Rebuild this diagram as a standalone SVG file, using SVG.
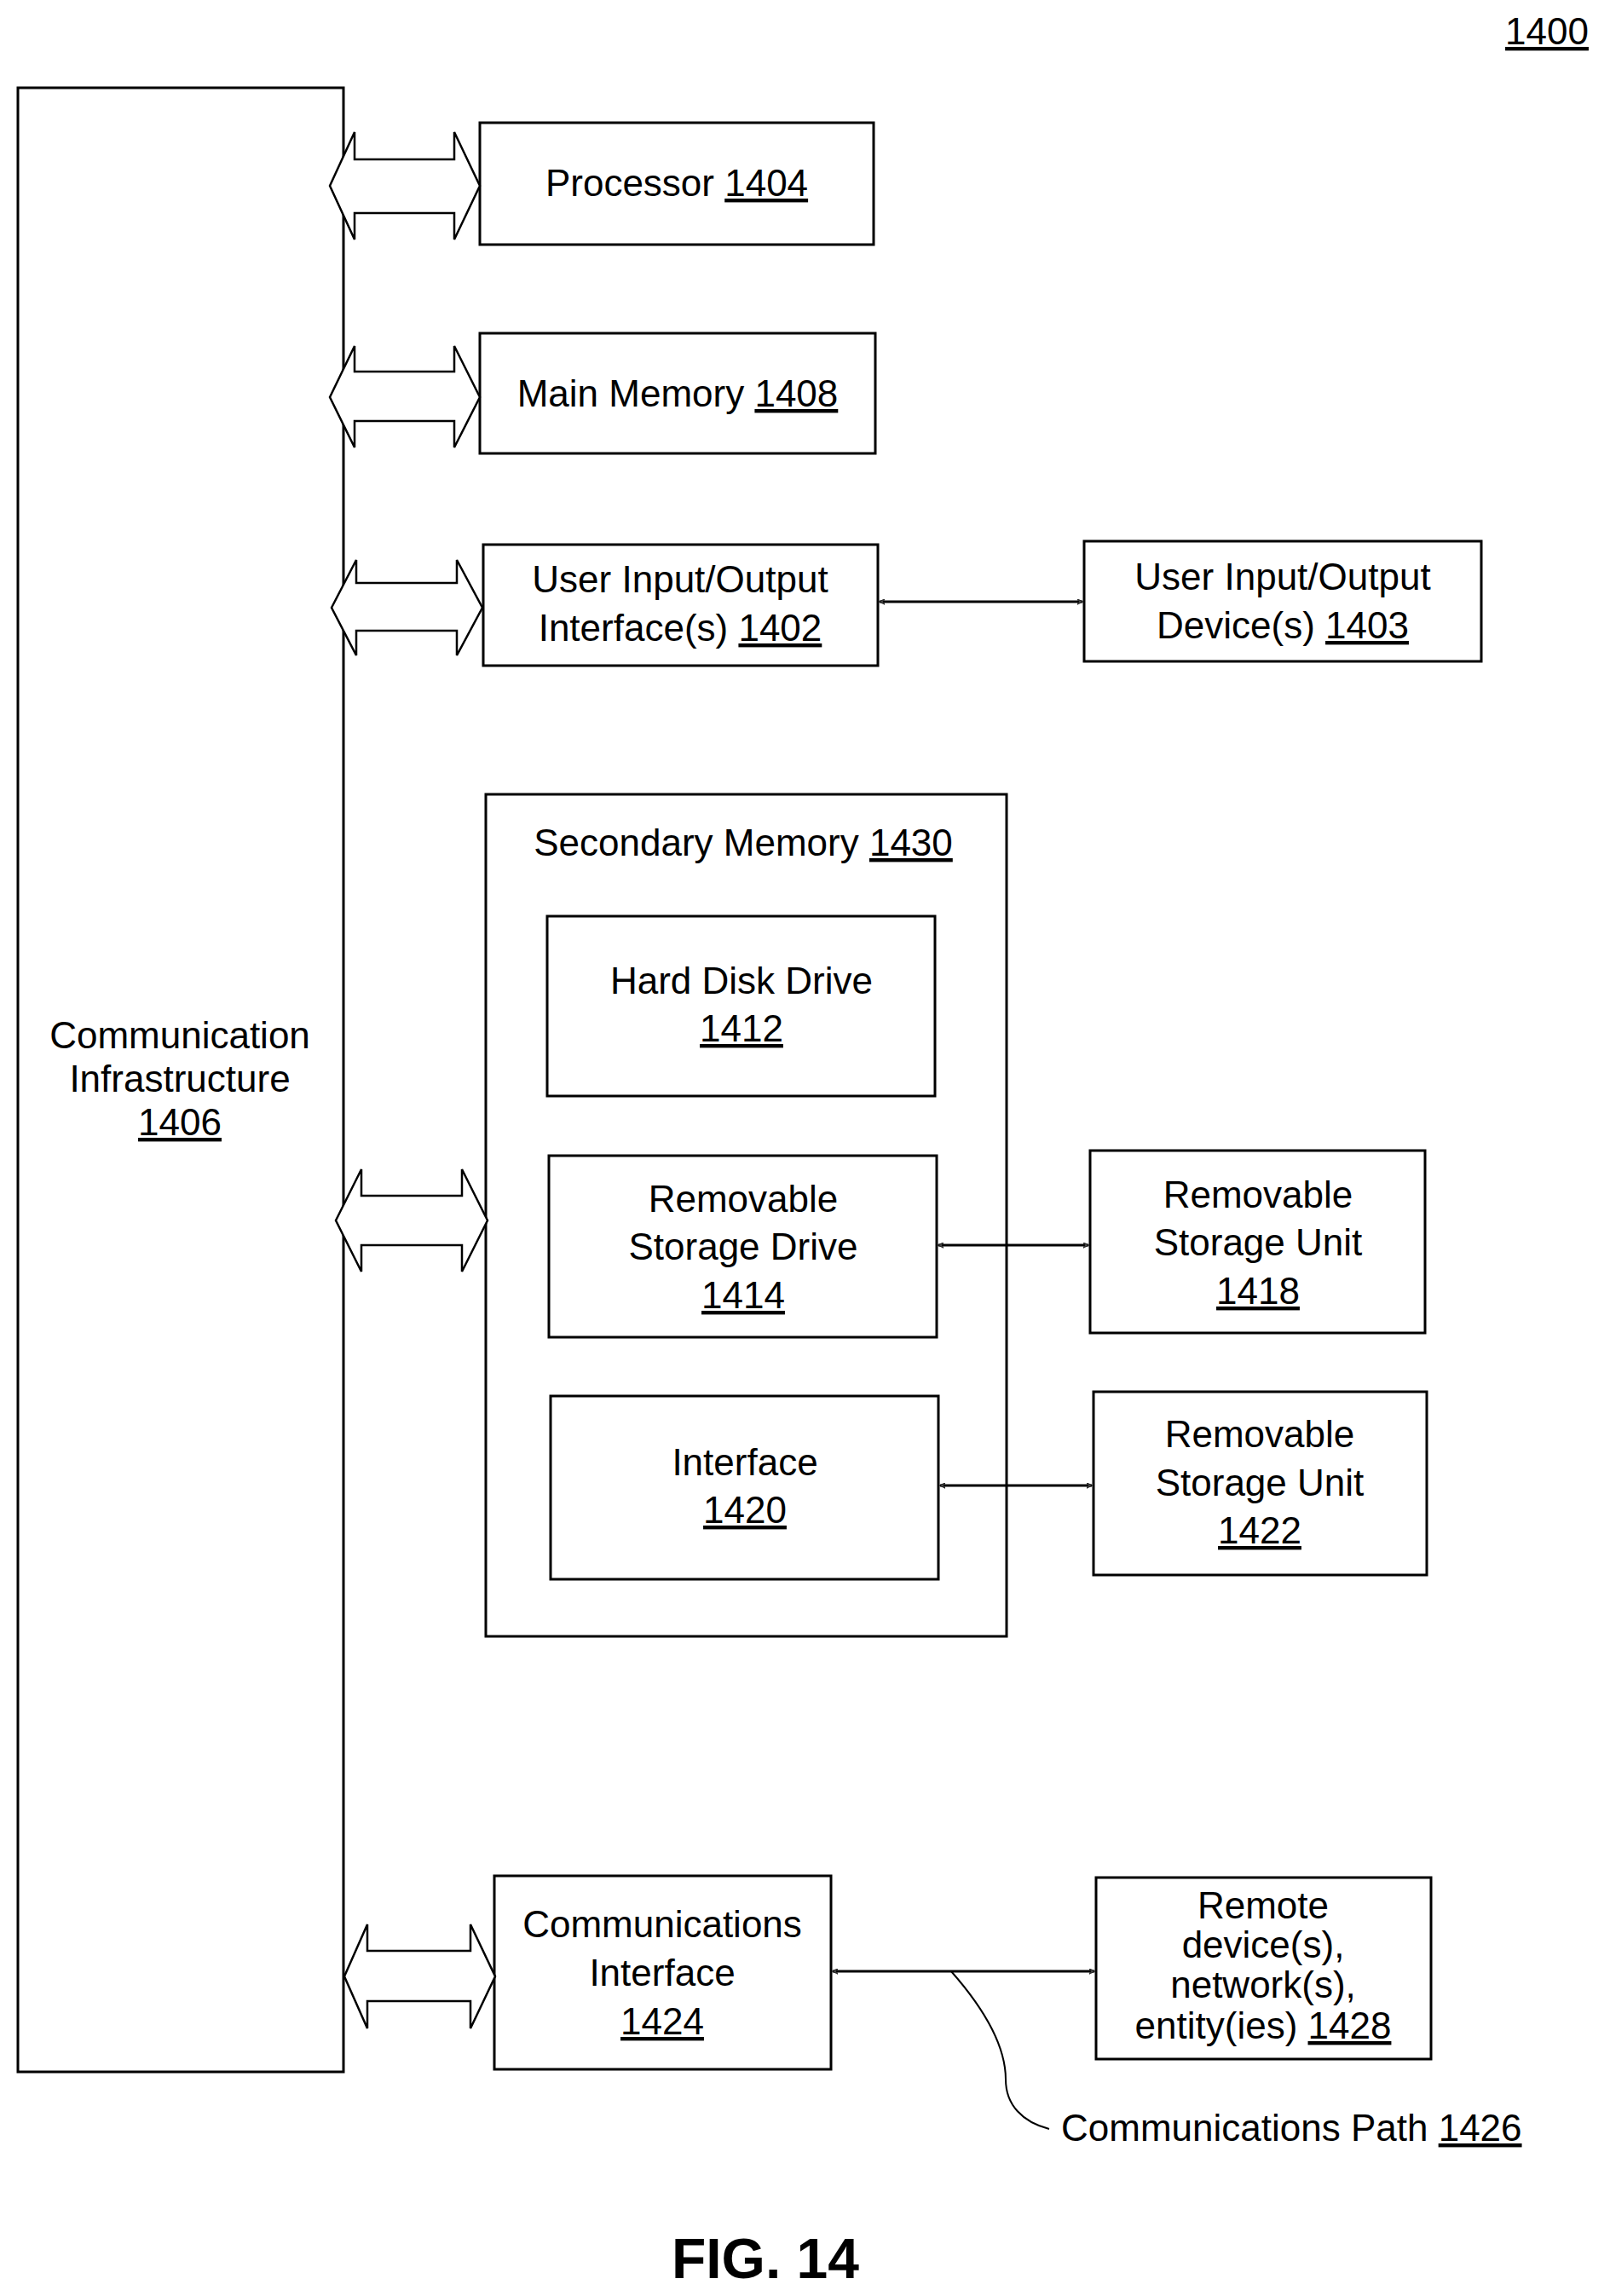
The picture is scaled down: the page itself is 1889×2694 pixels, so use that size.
<svg xmlns="http://www.w3.org/2000/svg" width="1889" height="2694" viewBox="0 0 1889 2694">
<defs>
<style>
.b{fill:#fff;stroke:#000;stroke-width:3}
.h{fill:#fff;stroke:#000;stroke-width:2.5;stroke-linejoin:miter}
.t{font-family:"Liberation Sans",Arial,sans-serif;font-size:44px;text-anchor:middle;fill:#000}
.u{text-decoration:underline}
.c{fill:none;stroke:#000;stroke-width:3}
</style>
<marker id="a" viewBox="0 0 10 10" refX="9" refY="5" markerWidth="7" markerHeight="7" orient="auto-start-reverse" markerUnits="userSpaceOnUse">
<path d="M0,0 L10,5 L0,10 L3,5 Z" fill="#444" stroke="#000" stroke-width="1"/>
</marker>
</defs>
<rect width="1889" height="2694" fill="#fff"/>
<text class="t" x="1815" y="52"><tspan class="u">1400</tspan></text>

<g id="n1406"><rect class="b" x="21" y="103" width="382" height="2328"/>
<text class="t" x="211" y="1230">Communication</text><text class="t" x="211" y="1281">Infrastructure</text><text class="t" x="211" y="1332"><tspan class="u">1406</tspan></text></g>

<g id="n1404"><rect class="b" x="563" y="144" width="462" height="143"/>
<text class="t" x="794" y="230">Processor <tspan class="u">1404</tspan></text></g>

<g id="n1408"><rect class="b" x="563" y="391" width="464" height="141"/>
<text class="t" x="795" y="477">Main Memory <tspan class="u">1408</tspan></text></g>

<g id="n1402"><rect class="b" x="567" y="639" width="463" height="142"/>
<text class="t" x="798" y="695">User Input/Output</text><text class="t" x="798" y="752">Interface(s) <tspan class="u">1402</tspan></text></g>

<g id="n1403"><rect class="b" x="1272" y="635" width="466" height="141"/>
<text class="t" x="1505" y="692">User Input/Output</text><text class="t" x="1505" y="749">Device(s) <tspan class="u">1403</tspan></text></g>

<g id="n1430"><rect class="b" x="570" y="932" width="611" height="988"/>
<text class="t" x="872" y="1004">Secondary Memory <tspan class="u">1430</tspan></text></g>

<g id="n1412"><rect class="b" x="642" y="1075" width="455" height="211"/>
<text class="t" x="870" y="1166">Hard Disk Drive</text><text class="t" x="870" y="1222"><tspan class="u">1412</tspan></text></g>

<g id="n1414"><rect class="b" x="644" y="1356" width="455" height="213"/>
<text class="t" x="872" y="1422">Removable</text><text class="t" x="872" y="1478">Storage Drive</text><text class="t" x="872" y="1535"><tspan class="u">1414</tspan></text></g>

<g id="n1418"><rect class="b" x="1279" y="1350" width="393" height="214"/>
<text class="t" x="1476" y="1417">Removable</text><text class="t" x="1476" y="1473">Storage Unit</text><text class="t" x="1476" y="1530"><tspan class="u">1418</tspan></text></g>

<g id="n1420"><rect class="b" x="646" y="1638" width="455" height="215"/>
<text class="t" x="874" y="1731">Interface</text><text class="t" x="874" y="1787"><tspan class="u">1420</tspan></text></g>

<g id="n1422"><rect class="b" x="1283" y="1633" width="391" height="215"/>
<text class="t" x="1478" y="1698">Removable</text><text class="t" x="1478" y="1755">Storage Unit</text><text class="t" x="1478" y="1811"><tspan class="u">1422</tspan></text></g>

<g id="n1424"><rect class="b" x="580" y="2201" width="395" height="227"/>
<text class="t" x="777" y="2273">Communications</text><text class="t" x="777" y="2330">Interface</text><text class="t" x="777" y="2387"><tspan class="u">1424</tspan></text></g>

<g id="n1428"><rect class="b" x="1286" y="2203" width="393" height="213"/>
<text class="t" x="1482" y="2251">Remote</text><text class="t" x="1482" y="2297">device(s),</text><text class="t" x="1482" y="2344">network(s),</text><text class="t" x="1482" y="2392">entity(ies) <tspan class="u">1428</tspan></text></g>

<g id="connectors">
<path class="h" d="M387,218 L416,155 L416,187 L533,187 L533,155 L563,218 L533,281 L533,250 L416,250 L416,281 Z"/>
<path class="h" d="M387,466 L416,406 L416,436 L533,436 L533,406 L563,466 L533,525 L533,494 L416,494 L416,525 Z"/>
<path class="h" d="M389,713 L418,657 L418,684 L536,684 L536,657 L566,713 L536,769 L536,740 L418,740 L418,769 Z"/>
<path class="h" d="M394,1432 L424,1372 L424,1403 L542,1403 L542,1372 L572,1432 L542,1492 L542,1461 L424,1461 L424,1492 Z"/>
<path class="h" d="M404,2319 L431,2258 L431,2289 L552,2289 L552,2258 L581,2319 L552,2380 L552,2348 L431,2348 L431,2380 Z"/>
<line class="c" x1="1032" y1="706" x2="1270" y2="706" marker-start="url(#a)" marker-end="url(#a)"/>
<line class="c" x1="1101" y1="1461" x2="1277" y2="1461" marker-start="url(#a)" marker-end="url(#a)"/>
<line class="c" x1="1103" y1="1743" x2="1281" y2="1743" marker-start="url(#a)" marker-end="url(#a)"/>
<line class="c" x1="977" y1="2313" x2="1284" y2="2313" marker-start="url(#a)" marker-end="url(#a)"/>
<path d="M1116,2313 C1175,2380 1180,2420 1180,2440 C1180,2470 1200,2490 1231,2498" fill="none" stroke="#000" stroke-width="2"/>
</g>
<text class="t" x="1245" y="2512" style="text-anchor:start">Communications Path <tspan class="u">1426</tspan></text>
<text class="t" x="898" y="2673" style="font-size:66px;font-weight:bold">FIG. 14</text>
</svg>
